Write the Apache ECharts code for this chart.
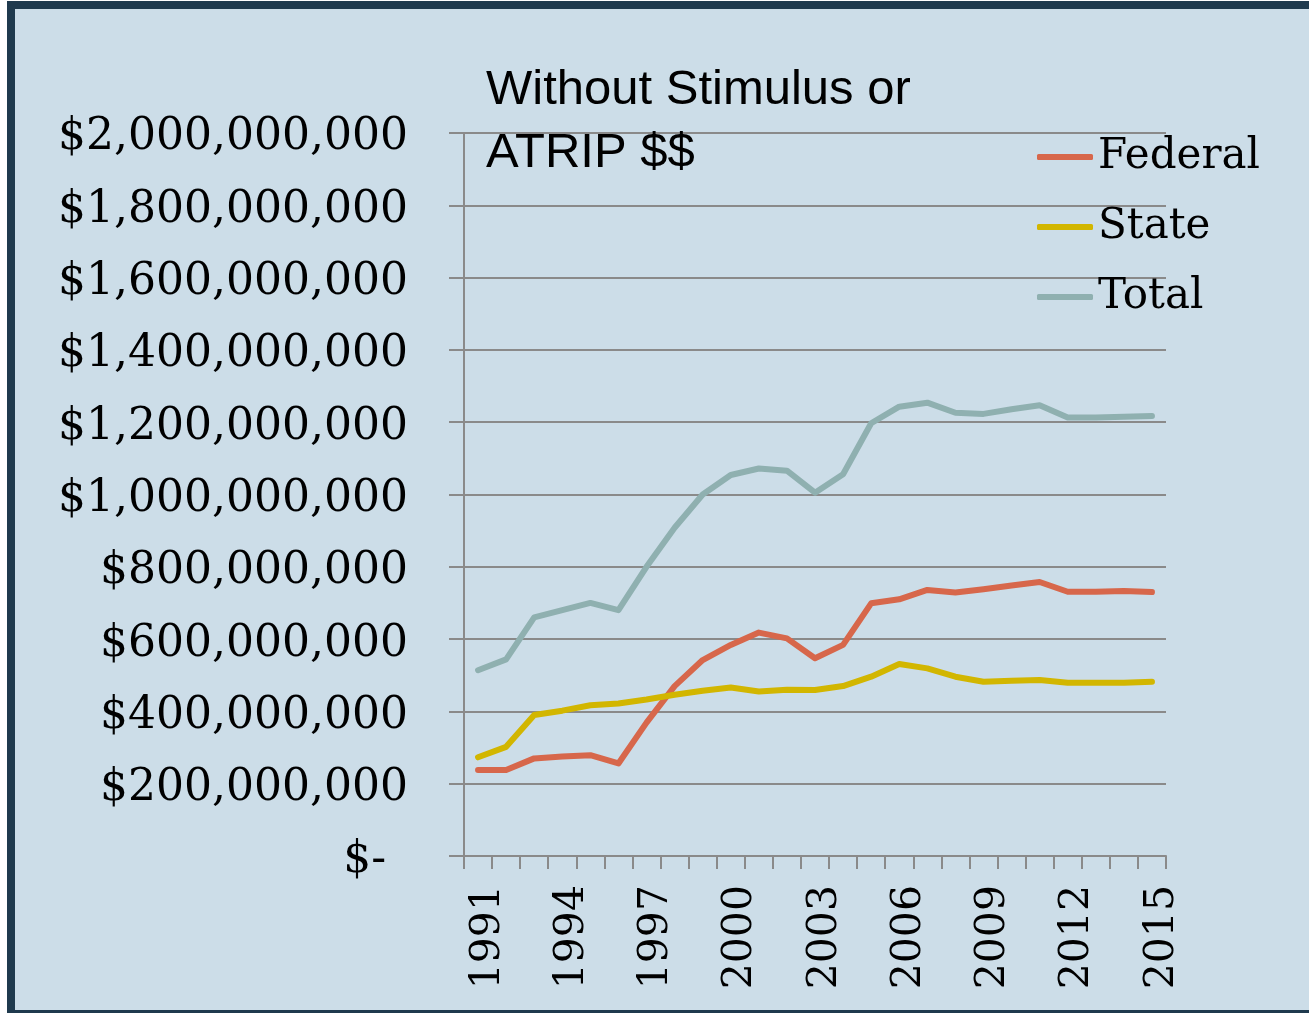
<!DOCTYPE html>
<html>
<head>
<meta charset="utf-8">
<script src="https://cdn.jsdelivr.net/npm/echarts@6/dist/echarts.min.js"></script>
<style>
  html, body { margin: 0; padding: 0; width: 1309px; height: 1013px; overflow: hidden; background: #ffffff; }
  #frame { position: absolute; left: 7px; top: 1px; width: 1340px; height: 1017px; box-sizing: border-box; border: 8px solid #1f3a4e; background: #ccdde8; }
  #chart { position: absolute; left: 0; top: 0; width: 1309px; height: 1013px; }
</style>
</head>
<body>
<div id="frame"></div>
<div id="chart"></div>
<script>
const titleText = 'Without Stimulus or\nATRIP $$';
const years = ['1991','1992','1993','1994','1995','1996','1997','1998','1999','2000','2001','2002','2003','2004','2005','2006','2007','2008','2009','2010','2011','2012','2013','2014','2015'];
const federal = [238e6,238e6,270e6,275e6,279e6,256e6,369e6,470e6,542e6,584e6,618e6,602e6,547e6,584e6,699e6,710e6,736e6,729e6,738e6,748e6,758e6,731e6,731e6,733e6,730e6];
const state = [273e6,302e6,390e6,402e6,417e6,422e6,433e6,446e6,457e6,466e6,455e6,460e6,459e6,470e6,496e6,531e6,519e6,496e6,482e6,485e6,487e6,479e6,479e6,479e6,482e6];
const total = [514e6,544e6,660e6,680e6,700e6,680e6,800e6,908e6,1000e6,1054e6,1072e6,1066e6,1005e6,1056e6,1197e6,1243e6,1254e6,1226e6,1223e6,1236e6,1247e6,1213e6,1213e6,1215e6,1217e6];
const seriesNames = ['Federal','State','Total'];
const seriesColors = ['#d7674b','#d2b600','#8fb0b0'];

const chart = echarts.init(document.getElementById('chart'), null, {renderer: 'canvas'});
const serif = '"DejaVu Serif", "Liberation Serif", serif';
const gridColor = '#8a8a8a';

function lineSeries(i, data) {
  return {
    name: seriesNames[i], type: 'line', data: data, symbol: 'none', showSymbol: false,
    color: seriesColors[i],
    lineStyle: { width: 6, color: seriesColors[i], cap: 'round', join: 'round' }
  };
}

const option = {
  backgroundColor: 'transparent',
  animation: false,
  title: {
    text: titleText,
    left: 486,
    top: 59,
    padding: 0,
    textStyle: { fontFamily: '"Liberation Sans", Arial, sans-serif', fontSize: 49, fontWeight: 'normal', color: '#000', lineHeight: 63 }
  },
  legend: {
    orient: 'vertical',
    left: 1037,
    top: 136,
    padding: 0,
    icon: 'roundRect',
    itemWidth: 56,
    itemHeight: 6,
    itemGap: 28,
    data: seriesNames,
    textStyle: { fontFamily: serif, fontSize: 42, color: '#000', lineHeight: 42 }
  },
  grid: { left: 464, right: 143, top: 133, bottom: 157, containLabel: false },
  xAxis: {
    type: 'category',
    data: years,
    boundaryGap: true,
    axisLine: { show: true, lineStyle: { color: gridColor, width: 2 } },
    axisTick: { show: true, interval: 0, length: 13, lineStyle: { color: gridColor, width: 2 } },
    axisLabel: {
      interval: 2, rotate: 90, margin: 29, color: '#000',
      formatter: function (v) { return '{a|' + v + '}'; },
      rich: { a: { fontFamily: serif, fontSize: 41, color: '#000', padding: [20, 0, 0, 0] } }
    },
    splitLine: { show: false }
  },
  yAxis: {
    type: 'value',
    min: 0,
    max: 2000000000,
    interval: 200000000,
    axisLine: { show: true, lineStyle: { color: gridColor, width: 2 } },
    axisTick: { show: true, length: 15, lineStyle: { color: gridColor, width: 2 } },
    axisLabel: {
      margin: 56,
      color: '#000',
      formatter: function (v) { return '{a|' + (v === 0 ? '$-\u2002' : '$' + v.toLocaleString('en-US')) + '}'; },
      rich: { a: { fontFamily: serif, fontSize: 44, color: '#000', padding: [10, 0, 0, 0] } }
    },
    splitLine: { show: true, lineStyle: { color: gridColor, width: 2 } }
  },
  series: [ lineSeries(0, federal), lineSeries(1, state), lineSeries(2, total) ]
};
chart.setOption(option);
</script>
</body>
</html>
